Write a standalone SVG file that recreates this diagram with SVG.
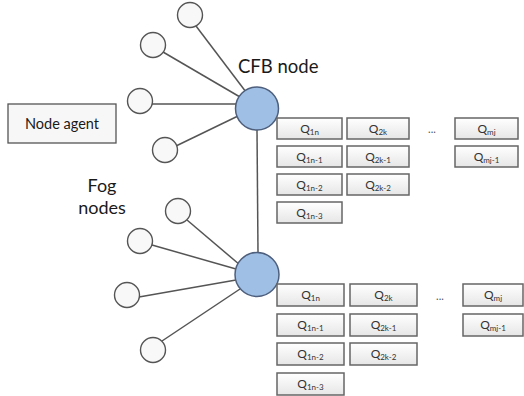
<svg xmlns="http://www.w3.org/2000/svg" width="524" height="396" viewBox="0 0 524 396">
<defs>
<linearGradient id="qg" x1="0" y1="0" x2="0" y2="1">
<stop offset="0" stop-color="#ffffff"/>
<stop offset="1" stop-color="#e6e6e6"/>
</linearGradient>
<style>
.lbl{font-family:Lato,"Liberation Sans",sans-serif;fill:#1a1a1a}
.q rect{fill:url(#qg);stroke:#666;stroke-width:1.5}
.q text{font-family:Lato,"Liberation Sans",sans-serif;font-size:12px;fill:#333;text-anchor:middle}
.q tspan{font-size:8px}
.sc{fill:#f8f8f8;stroke:#555;stroke-width:1.4}
.bc{fill:#9fbfe5;stroke:#4d5f7c;stroke-width:1.5}
.ln{stroke:#555;stroke-width:1.5;fill:none}
.dots{font-family:Lato,"Liberation Sans",sans-serif;font-size:11px;fill:#555;text-anchor:middle}
</style>
</defs>
<rect width="524" height="396" fill="#ffffff"/>

<g id="connectors">
<line class="ln" x1="196" y1="26" x2="246" y2="92"/>
<line class="ln" x1="163" y1="52" x2="240" y2="97"/>
<line class="ln" x1="152" y1="104" x2="236" y2="104"/>
<line class="ln" x1="176" y1="146" x2="238" y2="116"/>
<line class="ln" x1="257" y1="130" x2="258" y2="253"/>
<line class="ln" x1="187" y1="220" x2="240" y2="265"/>
<line class="ln" x1="152" y1="245" x2="236" y2="269"/>
<line class="ln" x1="139" y1="297" x2="236" y2="280"/>
<line class="ln" x1="162" y1="341" x2="240" y2="289"/>
</g>

<g id="node-agent">
<rect x="8" y="104" width="108" height="39" fill="#f7f7f7" stroke="#555" stroke-width="1.3"/>
<text class="lbl" x="62" y="129" font-size="14.5" text-anchor="middle">Node agent</text>
</g>

<g id="fog-nodes-label">
<text class="lbl" x="102" y="192" font-size="18" text-anchor="middle">Fog</text>
<text class="lbl" x="102" y="214" font-size="18" text-anchor="middle">nodes</text>
</g>

<g id="top-fog-nodes">
<circle class="sc" cx="190" cy="15" r="12.5"/>
<circle class="sc" cx="153" cy="45" r="12.5"/>
<circle class="sc" cx="140" cy="101" r="12.5"/>
<circle class="sc" cx="165" cy="150" r="12.5"/>
</g>

<g id="cfb-node">
<circle class="bc" cx="257" cy="108.5" r="21.5"/>
<text class="lbl" x="238" y="73" font-size="18.5">CFB node</text>
</g>

<g id="bottom-fog-nodes">
<circle class="sc" cx="178" cy="211" r="12.5"/>
<circle class="sc" cx="140" cy="241" r="12.5"/>
<circle class="sc" cx="127" cy="295" r="12.5"/>
<circle class="sc" cx="153" cy="350" r="12.5"/>
</g>

<g id="bottom-cfb-node">
<circle class="bc" cx="257" cy="274.5" r="22"/>
</g>

<g id="top-queues" class="q">
<rect x="277" y="118" width="65" height="21"/><text x="309.5" y="133">Q<tspan dy="2">1n</tspan></text>
<rect x="277" y="146" width="65" height="21"/><text x="309.5" y="161">Q<tspan dy="2">1n-1</tspan></text>
<rect x="277" y="174" width="65" height="21"/><text x="309.5" y="189">Q<tspan dy="2">1n-2</tspan></text>
<rect x="277" y="202" width="65" height="21"/><text x="309.5" y="217">Q<tspan dy="2">1n-3</tspan></text>
<rect x="347" y="118" width="62" height="21"/><text x="378" y="133">Q<tspan dy="2">2k</tspan></text>
<rect x="347" y="146" width="62" height="21"/><text x="378" y="161">Q<tspan dy="2">2k-1</tspan></text>
<rect x="347" y="174" width="62" height="21"/><text x="378" y="189">Q<tspan dy="2">2k-2</tspan></text>
<rect x="455" y="118" width="63" height="21"/><text x="486.5" y="133">Q<tspan dy="2">mj</tspan></text>
<rect x="455" y="146" width="63" height="21"/><text x="486.5" y="161">Q<tspan dy="2">mj-1</tspan></text>
</g>
<text class="dots" x="432" y="133">...</text>

<g id="bottom-queues" class="q">
<rect x="277" y="284" width="67" height="22"/><text x="310.5" y="299">Q<tspan dy="2">1n</tspan></text>
<rect x="277" y="314" width="67" height="22"/><text x="310.5" y="329">Q<tspan dy="2">1n-1</tspan></text>
<rect x="277" y="343" width="67" height="22"/><text x="310.5" y="358">Q<tspan dy="2">1n-2</tspan></text>
<rect x="277" y="373" width="67" height="22"/><text x="310.5" y="388">Q<tspan dy="2">1n-3</tspan></text>
<rect x="350" y="284" width="67" height="22"/><text x="383.5" y="299">Q<tspan dy="2">2k</tspan></text>
<rect x="350" y="314" width="67" height="22"/><text x="383.5" y="329">Q<tspan dy="2">2k-1</tspan></text>
<rect x="350" y="343" width="67" height="22"/><text x="383.5" y="358">Q<tspan dy="2">2k-2</tspan></text>
<rect x="463" y="284" width="60" height="22"/><text x="493" y="299">Q<tspan dy="2">mj</tspan></text>
<rect x="463" y="314" width="60" height="22"/><text x="493" y="329">Q<tspan dy="2">mj-1</tspan></text>
</g>
<text class="dots" x="440" y="300">...</text>
</svg>
